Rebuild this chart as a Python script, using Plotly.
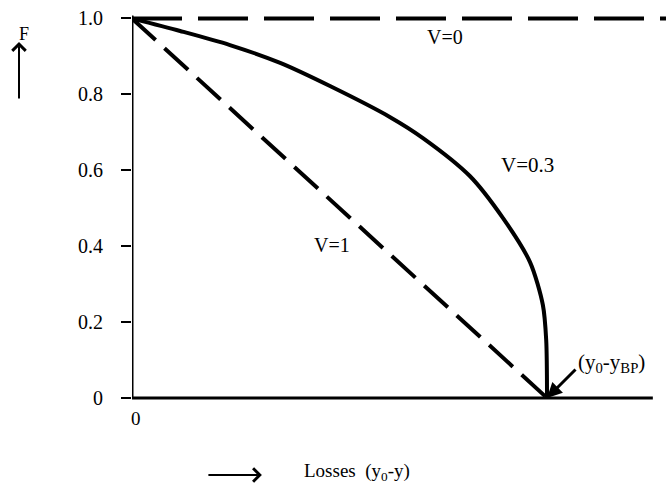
import plotly.graph_objects as go

# ---- data ----
v0_x = [0.0, 1.29]
v0_F = [1.0, 1.0]

v1_x = [0.0, 1.0]
v1_F = [1.0, 0.0]

v03_x = [0.0, 0.116, 0.236, 0.357, 0.477, 0.622, 0.701, 0.814, 0.894, 0.959, 0.990, 0.998, 1.0]
v03_F = [1.0, 0.967, 0.930, 0.883, 0.822, 0.740, 0.685, 0.585, 0.474, 0.358, 0.245, 0.153, 0.0]

y_ticks = [0, 0.2, 0.4, 0.6, 0.8, 1.0]
y_ticktext = ["0", "0.2", "0.4", "0.6", "0.8", "1.0"]
x_axis_end = 1.255
y_axis_top = 1.008

FONT = "Liberation Serif, Times New Roman, serif"
W, H = 666, 488
ML = 132
XR = [0, 1.2867]
YR = [-0.2372, 1.0487]

fig = go.Figure()
fig.add_trace(go.Scatter(x=v0_x, y=v0_F, mode="lines",
                         line=dict(color="black", width=4, dash="50px,16px"),
                         showlegend=False, cliponaxis=False))
fig.add_trace(go.Scatter(x=v1_x, y=v1_F, mode="lines",
                         line=dict(color="black", width=4, dash="32px,12px"),
                         showlegend=False))
fig.add_trace(go.Scatter(x=v03_x, y=v03_F, mode="lines", line_shape="spline",
                         line=dict(color="black", width=4, smoothing=0.8),
                         showlegend=False))

# axis lines
fig.add_shape(type="line", x0=0, y0=0, x1=x_axis_end, y1=0, line=dict(color="black", width=3))
fig.add_shape(type="line", x0=0, y0=0, x1=0, y1=y_axis_top, line=dict(color="black", width=3))

ann_font = dict(family=FONT, size=20, color="black")

def px2paper(px, py):
    return (px - ML) / (W - ML), (H - py) / H

anns = []
anns.append(dict(x=0.754, y=0.951, xref="x", yref="y", text="V=0", showarrow=False, font=ann_font))
anns.append(dict(x=0.954, y=0.614, xref="x", yref="y", text="V=0.3", showarrow=False,
                 font=dict(family=FONT, size=21, color="black")))
anns.append(dict(x=0.482, y=0.403, xref="x", yref="y", text="V=1", showarrow=False, font=ann_font))
anns.append(dict(x=0.0, y=-0.053, xref="x", yref="y", text="0", showarrow=False,
                 font=dict(family=FONT, size=19, color="black"), xanchor="left", xshift=-3))
# (y0 - yBP) arrow + text
anns.append(dict(x=1.0, y=0.0, xref="x", yref="y", text="", showarrow=True,
                 ax=30, ay=-30, axref="pixel", ayref="pixel",
                 arrowhead=2, arrowsize=1, arrowwidth=3, arrowcolor="black"))
anns.append(dict(x=1.07, y=0.093, xref="x", yref="y", text="(y<sub>0</sub>-y<sub>BP</sub>)",
                 showarrow=False, font=dict(family=FONT, size=21, color="black"), xanchor="left"))
# Losses label and arrow
anns.append(dict(x=0.542, y=-0.195, xref="x", yref="y", text="Losses  (y<sub>0</sub>-y)",
                 showarrow=False, font=dict(family=FONT, size=19, color="black")))
anns.append(dict(x=0.313, y=-0.203, xref="x", yref="y", text="", showarrow=True,
                 ax=-55, ay=0, axref="pixel", ayref="pixel",
                 arrowhead=4, arrowsize=1.3, arrowwidth=2, arrowcolor="black"))
# F label and arrow
fx, fy = px2paper(17, 22)
anns.append(dict(x=fx, y=fy, xref="paper", yref="paper", text="F", showarrow=False,
                 font=dict(family=FONT, size=18, color="black")))
tx, ty = px2paper(19, 42)
anns.append(dict(x=tx, y=ty, xref="paper", yref="paper", text="", showarrow=True,
                 ax=0, ay=58, axref="pixel", ayref="pixel",
                 arrowhead=4, arrowsize=1.3, arrowwidth=2, arrowcolor="black"))

fig.update_layout(
    width=W, height=H,
    margin=dict(l=ML, r=0, t=0, b=0),
    paper_bgcolor="white", plot_bgcolor="white",
    annotations=anns,
    xaxis=dict(range=XR, showgrid=False, zeroline=False, showline=False,
               showticklabels=False, ticks=""),
    yaxis=dict(range=YR, showgrid=False, zeroline=False, showline=False,
               tickvals=y_ticks, ticktext=y_ticktext, ticks="outside", ticklen=10,
               tickwidth=2, tickcolor="black", ticklabelstandoff=14,
               tickfont=dict(family=FONT, size=20, color="black")),
)

fig.write_html("out.html")
